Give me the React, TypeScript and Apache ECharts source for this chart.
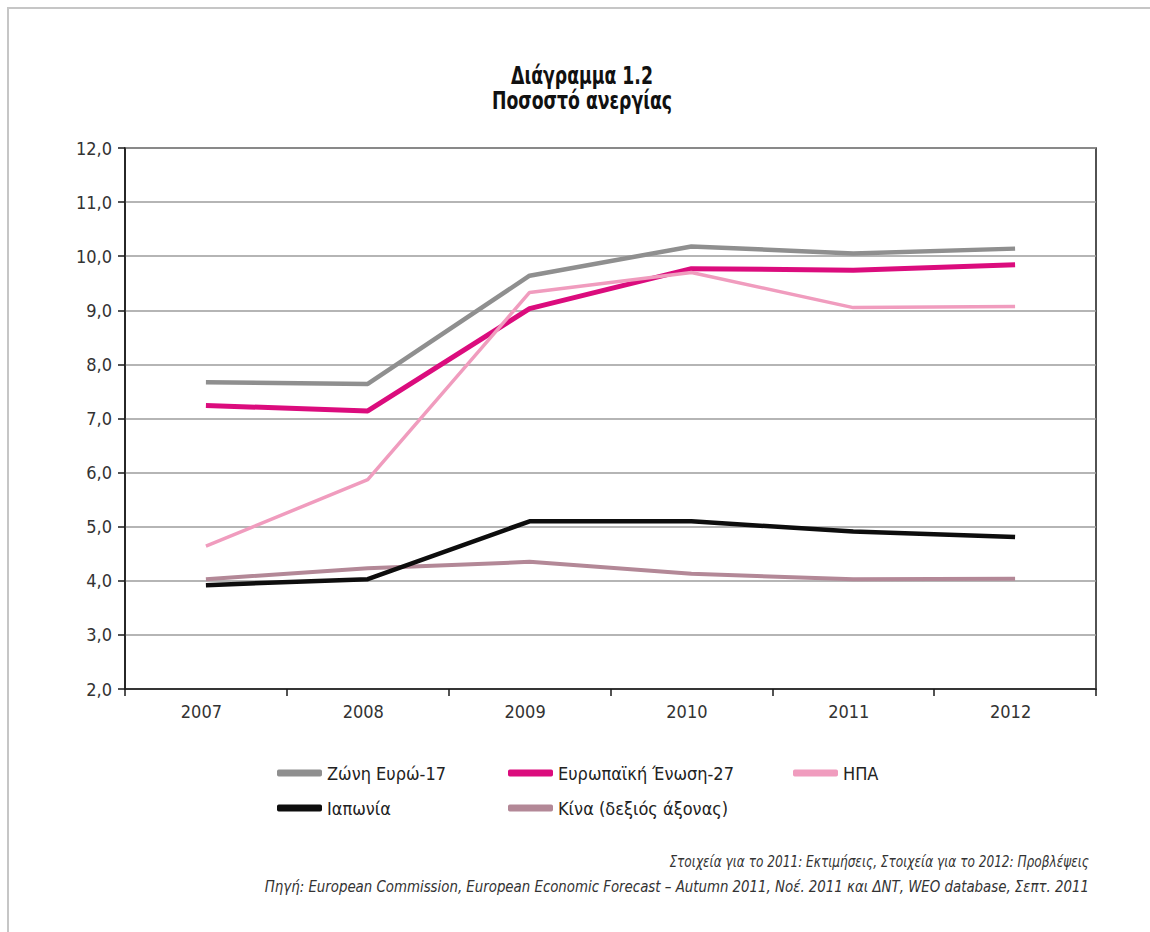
import React, { useEffect, useRef } from "react";
import * as echarts from "echarts";

// Unemployment rate, %, 2007–2012
const YEARS = ["2007", "2008", "2009", "2010", "2011", "2012"];
const EURO_AREA_17 = [7.67, 7.64, 9.64, 10.18, 10.05, 10.14];
const EU_27 = [7.24, 7.14, 9.03, 9.77, 9.74, 9.84];
const USA = [4.64, 5.87, 9.33, 9.7, 9.05, 9.07];
const JAPAN = [3.92, 4.03, 5.1, 5.1, 4.91, 4.81];
const CHINA = [4.03, 4.23, 4.35, 4.13, 4.03, 4.04];

const SERIES_NAMES = [
  "Ζώνη Ευρώ-17",
  "Ευρωπαϊκή Ένωση-27",
  "ΗΠΑ",
  "Ιαπωνία",
  "Κίνα (δεξιός άξονας)",
];

const Y_MIN = 2;
const Y_MAX = 12;
const Y_STEP = 1;

const TITLE_LINES = ["Διάγραμμα 1.2", "Ποσοστό ανεργίας"];
const NOTES = [
  "Στοιχεία για το 2011: Εκτιμήσεις, Στοιχεία για το 2012: Προβλέψεις",
  "Πηγή: European Commission, European Economic Forecast – Autumn 2011, Νοέ. 2011 και ΔΝΤ, WEO database, Σεπτ. 2011",
];

const FONT = "'DejaVu Sans Condensed', 'Liberation Sans Narrow', sans-serif";

const STYLES = [
  { color: "#8f8f8f", width: 4.5, z: 2 },
  { color: "#db0c7d", width: 5, z: 3 },
  { color: "#f09cbe", width: 3.5, z: 4 },
  { color: "#0d0d0d", width: 4.5, z: 6 },
  { color: "#b38897", width: 4, z: 5 },
];

const LEGEND_SLOTS = [
  { left: 277, top: 762 },
  { left: 508, top: 762 },
  { left: 793, top: 762 },
  { left: 277, top: 797 },
  { left: 508, top: 797 },
];

function App() {
  const ref = useRef<HTMLDivElement>(null);

  useEffect(() => {
    if (!ref.current) return;
    const chart = echarts.init(ref.current, null, { renderer: "svg" });

    const values = [EURO_AREA_17, EU_27, USA, JAPAN, CHINA];

    const titleText = (text: string, y: number) => ({
      type: "text",
      x: 582,
      y,
      scaleX: 0.8,
      style: {
        text,
        fontFamily: FONT,
        fontWeight: "bold",
        fontSize: 24,
        fill: "#111111",
        align: "center",
        verticalAlign: "middle",
      },
    });

    const noteText = (text: string, y: number, scaleX: number) => ({
      type: "text",
      x: 1089,
      y,
      scaleX,
      style: {
        text,
        fontFamily: FONT,
        fontStyle: "italic",
        fontSize: 15,
        fill: "#333333",
        align: "right",
        verticalAlign: "middle",
      },
    });

    chart.setOption({
      animation: false,
      backgroundColor: "#ffffff",
      grid: {
        left: 125,
        right: 54,
        top: 148,
        bottom: 243,
        show: true,
        borderColor: "#1a1a1a",
        borderWidth: 1.5,
        backgroundColor: "transparent",
      },
      xAxis: {
        type: "category",
        data: YEARS,
        boundaryGap: true,
        axisLine: { lineStyle: { color: "#1a1a1a", width: 1.5 } },
        axisTick: {
          show: true,
          inside: false,
          length: 7,
          alignWithLabel: false,
          lineStyle: { color: "#1a1a1a", width: 1.5 },
        },
        axisLabel: {
          interval: 0,
          margin: 13,
          fontFamily: FONT,
          fontSize: 18,
          color: "#333333",
          padding: [0, 9, 0, 0],
        },
        splitLine: { show: false },
      },
      yAxis: {
        type: "value",
        min: Y_MIN,
        max: Y_MAX,
        interval: Y_STEP,
        axisLine: { show: true, lineStyle: { color: "#1a1a1a", width: 1.5 } },
        axisTick: {
          show: true,
          length: 7,
          lineStyle: { color: "#1a1a1a", width: 1.5 },
        },
        axisLabel: {
          margin: 13,
          fontFamily: FONT,
          fontSize: 18,
          color: "#333333",
          formatter: (v: number) => v.toFixed(1).replace(".", ","),
        },
        splitLine: { show: true, lineStyle: { color: "#9c9c9c", width: 1.5 } },
      },
      legend: SERIES_NAMES.map((name, i) => ({
        data: [name],
        left: LEGEND_SLOTS[i].left,
        top: LEGEND_SLOTS[i].top,
        padding: 0,
        icon: "roundRect",
        itemWidth: 45,
        itemHeight: 7,
        itemGap: 0,
        selectedMode: false,
        itemStyle: { borderWidth: 0 },
        textStyle: {
          fontFamily: FONT,
          fontSize: 18,
          lineHeight: 22,
          color: "#222222",
        },
      })),
      series: SERIES_NAMES.map((name, i) => ({
        name,
        type: "line",
        data: values[i],
        symbol: "none",
        z: STYLES[i].z,
        color: STYLES[i].color,
        itemStyle: { color: STYLES[i].color },
        lineStyle: { color: STYLES[i].color, width: STYLES[i].width },
        emphasis: { disabled: true },
      })),
      graphic: [
        {
          type: "polyline",
          shape: { points: [[8, 932], [8, 8], [1150, 8]] },
          style: { stroke: "#c6c6c6", lineWidth: 2, fill: "none" },
          silent: true,
        },
        titleText(TITLE_LINES[0], 76),
        titleText(TITLE_LINES[1], 101),
        noteText(NOTES[0], 862, 0.9),
        noteText(NOTES[1], 887, 0.99),
      ],
    });

    return () => chart.dispose();
  }, []);

  return (
    <div
      ref={ref}
      style={{ position: "absolute", left: 0, top: 0, width: 1150, height: 932 }}
    />
  );
}

export default App;
